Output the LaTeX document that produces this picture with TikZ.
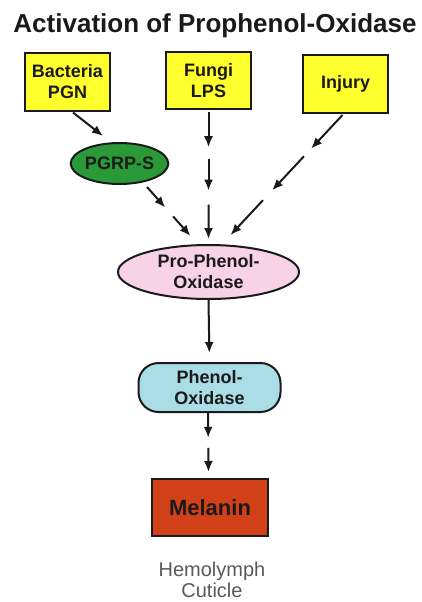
\documentclass[tikz,border=0pt]{standalone}
\usepackage{fontspec}
\setmainfont{Liberation Sans}
\usetikzlibrary{shapes.geometric,arrows.meta,calc}
\definecolor{boxyellow}{HTML}{FFFF2E}
\definecolor{pgrpgreen}{HTML}{2A9A38}
\definecolor{propink}{HTML}{F8D2E6}
\definecolor{poblue}{HTML}{AADDE6}
\definecolor{melred}{HTML}{D2401A}
\definecolor{inkc}{HTML}{1A1A1A}
\begin{document}
\begin{tikzpicture}[x=1pt,y=-1pt,
  lbl/.style={font=\fontsize{18}{21}\selectfont\bfseries, align=center, text=inkc},
  srcbox/.style={lbl, draw=inkc, line width=2pt, fill=boxyellow, minimum width=85pt, minimum height=57pt, inner sep=0pt},
  arr/.style={-{Latex[length=11pt,width=9pt]}, line width=2pt, draw=inkc},
]
\useasboundingbox (0,0) rectangle (422,602);
\node[font=\fontsize{26}{28}\selectfont\bfseries, text=inkc, anchor=base] (title) at (215,33) {Activation of Prophenol-Oxidase};
\node[srcbox] (bact) at (67.5,82) {Bacteria\\PGN};
\node[srcbox] (fungi) at (208.5,80.5) {Fungi\\LPS};
\node[srcbox] (inj) at (345.5,84) {Injury};
\node[ellipse, lbl, draw=inkc, line width=2pt, fill=pgrpgreen, minimum width=97pt, minimum height=41pt, inner sep=0pt] (pgrp) at (119.5,163.5) {PGRP-S};
\node[ellipse, lbl, draw=inkc, line width=2pt, fill=propink, minimum width=181pt, minimum height=54pt, inner sep=0pt] (propo) at (208.5,272) {Pro-Phenol-\\Oxidase};
\node[lbl, draw=inkc, line width=2pt, fill=poblue, rounded corners=20pt, minimum width=142pt, minimum height=49pt, inner sep=0pt] (po) at (209.5,387.5) {Phenol-\\Oxidase};
\node[draw=inkc, line width=2pt, fill=melred, minimum width=116pt, minimum height=57pt, inner sep=0pt, font=\fontsize{22}{26}\selectfont\bfseries, text=inkc] (mel) at (210,507.5) {Melanin};
\node[anchor=base, font=\fontsize{20}{22}\selectfont, text=black!65] (hemo) at (212,576) {Hemolymph};
\node[anchor=base, font=\fontsize{20}{22}\selectfont, text=black!65] (cut) at (212,597) {Cuticle};

% Bacteria -> PGRP-S
\draw[arr] ($(bact.south)+(5.5,1)$) -- ($(pgrp.north)+(-16.5,-6)$);
% PGRP-S -> Pro-PO (dashed)
\coordinate (pA) at ($(pgrp.center)+(27.5,23.5)$);
\coordinate (pB) at ($(propo.north)+(-18,-8)$);
\draw[arr] (pA) -- ($(pA)!0.42!(pB)$);
\draw[arr] ($(pA)!0.6!(pB)$) -- (pB);
% Fungi -> Pro-PO (dashed)
\coordinate (fA) at ($(fungi.south)+(0,1.5)$);
\coordinate (fB) at ($(propo.north)+(0,-5)$);
\draw[arr] (fA) -- ($(fA)!0.28!(fB)$);
\draw[arr] ($(fA)!0.37!(fB)$) -- ($(fA)!0.62!(fB)$);
\draw[arr] ($(fA)!0.73!(fB)$) -- (fB);
% Injury -> Pro-PO (dashed)
\coordinate (iA) at ($(inj.south)+(-3,1.5)$);
\coordinate (iB) at ($(propo.north)+(22,-9)$);
\draw[arr] (iA) -- ($(iA)!0.28!(iB)$);
\draw[arr] ($(iA)!0.344!(iB)$) -- ($(iA)!0.628!(iB)$);
\draw[arr] ($(iA)!0.71!(iB)$) -- (iB);
% Pro-PO -> PO
\draw[arr, shorten >=9pt] (propo.south) -- (po.north);
% PO -> Melanin (dashed)
\coordinate (mA) at ($(po.south)+(-1.5,0)$);
\coordinate (mB) at ($(mel.north)+(-1.5,-6)$);
\draw[arr] (mA) -- ($(mA)!0.42!(mB)$);
\draw[arr] ($(mA)!0.59!(mB)$) -- (mB);
\end{tikzpicture}
\end{document}
